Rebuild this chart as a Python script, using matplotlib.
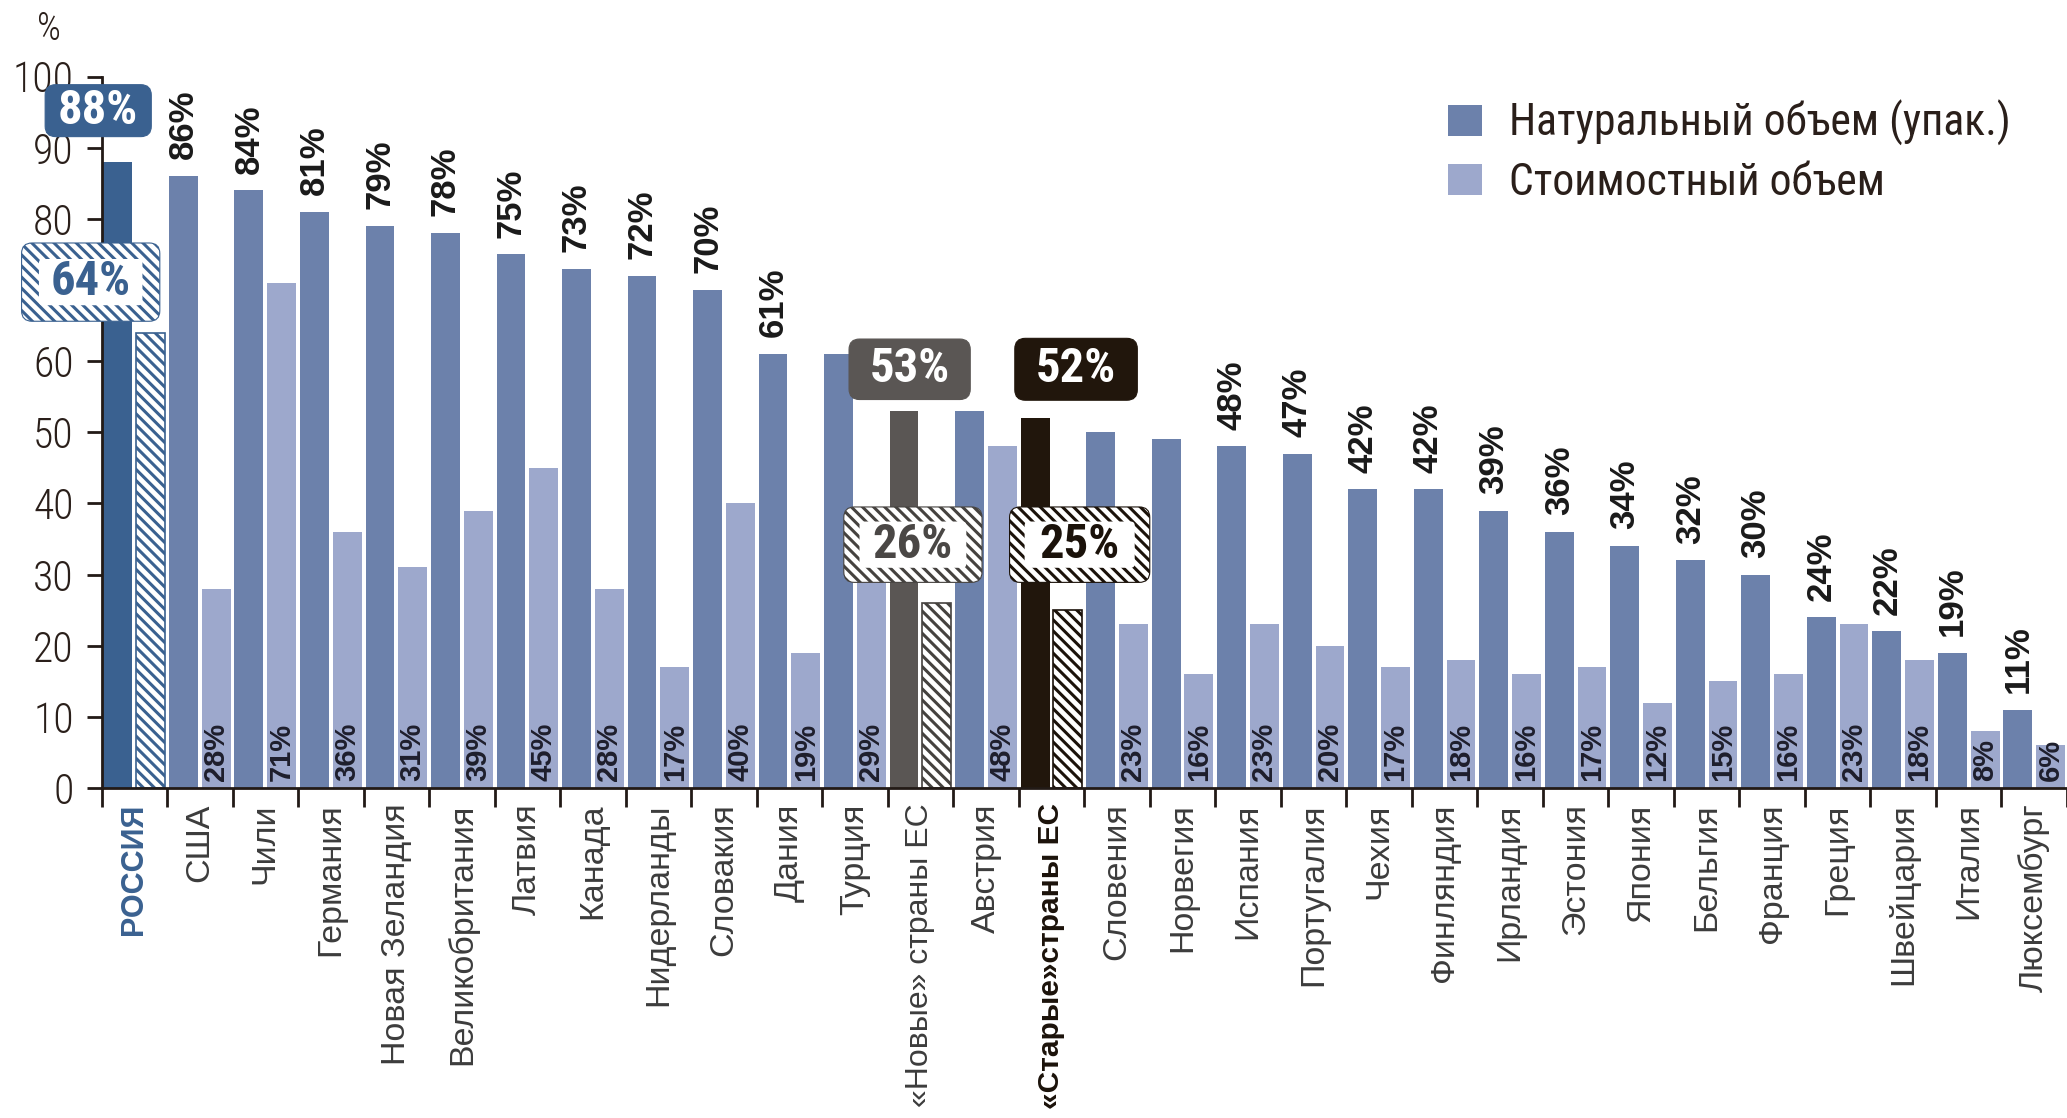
import numpy as np
import matplotlib.pyplot as plt
from matplotlib.patches import FancyBboxPatch, Patch

plt.rcParams['hatch.linewidth'] = 2.2

countries = ['РОССИЯ', 'США', 'Чили', 'Германия', 'Новая Зеландия', 'Великобритания',
             'Латвия', 'Канада', 'Нидерланды', 'Словакия', 'Дания', 'Турция',
             '«Новые» страны ЕС', 'Австрия', '«Старые»страны ЕС', 'Словения', 'Норвегия',
             'Испания', 'Португалия', 'Чехия', 'Финляндия', 'Ирландия', 'Эстония',
             'Япония', 'Бельгия', 'Франция', 'Греция', 'Швейцария', 'Италия', 'Люксембург']
natural = [88, 86, 84, 81, 79, 78, 75, 73, 72, 70, 61, 61, 53, 53, 52, 50, 49,
           48, 47, 42, 42, 39, 36, 34, 32, 30, 24, 22, 19, 11]
value = [64, 28, 71, 36, 31, 39, 45, 28, 17, 40, 19, 29, 26, 48, 25, 23, 16,
         23, 20, 17, 18, 16, 17, 12, 15, 16, 23, 18, 8, 6]
legend_labels = ['Натуральный объем (упак.)', 'Стоимостный объем']

# bars without a value on top
no_top_label = ['Турция', 'Австрия', 'Словения', 'Норвегия']

NARROW = ['Roboto Condensed', 'Liberation Sans']
REGULAR = ['Liberation Sans', 'DejaVu Sans']
plt.rcParams['font.family'] = REGULAR

c_nat = '#6c81ab'
c_val = '#9da8cc'
# highlighted groups: bar colour, stripe colour, label colour
special = {
    'РОССИЯ': ('#3a6190', '#3a6190', '#3a6190'),
    '«Новые» страны ЕС': ('#5a5654', '#45423f', '#4a4745'),
    '«Старые»страны ЕС': ('#21160c', '#1b120a', '#1b120a'),
}

W, H = 2067, 1118
fig = plt.figure(figsize=(W / 100, H / 100), dpi=100)
ax = fig.add_axes([101.5 / W, 330 / H, (W - 101.5) / W, (788 - 76.5) / H])
n = len(countries)
ax.set_xlim(0, n)
ax.set_ylim(0, 100)

x = np.arange(n)
nat_colors = [special[c][0] if c in special else c_nat for c in countries]
bars_nat = ax.bar(x + 0.25, natural, 0.44, color=nat_colors, zorder=2)
bars_val = ax.bar(x + 0.75, value, 0.44, color=c_val, zorder=2)
for c, p in zip(countries, bars_val):
    if c in special:
        p.set_facecolor('white')
        p.set_edgecolor(special[c][1])
        p.set_linewidth(1.2)
        p.set_hatch('\\\\\\')

# value labels
for i, c in enumerate(countries):
    if c in special:
        continue
    if c not in no_top_label:
        ax.annotate(f'{natural[i]}%', (x[i] + 0.25, natural[i]), xytext=(0, 12),
                    textcoords='offset points', rotation=90, ha='center', va='bottom',
                    fontsize=25, fontweight='bold', color='#1a1a1a', zorder=4)
    ax.text(x[i] + 0.75, 1.0, f'{value[i]}%', rotation=90, ha='center', va='bottom',
            fontsize=21, fontweight='bold', color='#1e1e2c', zorder=4)

# rounded callouts for the highlighted groups
px_x = (W - 101.5) / n
px_y = (788 - 76.5) / 100
aspect = px_x / px_y


def callout(cx, cy, w, h, text, fc, tc, hatch_col=None, inner=None):
    kw = dict(boxstyle='round,pad=0,rounding_size=0.16', mutation_aspect=aspect,
              clip_on=False, zorder=5)
    if hatch_col is None:
        ax.add_patch(FancyBboxPatch((cx - w / 2, cy - h / 2), w, h, facecolor=fc,
                                    edgecolor=fc, linewidth=0.8, **kw))
    else:
        ax.add_patch(FancyBboxPatch((cx - w / 2, cy - h / 2), w, h, facecolor='white',
                                    edgecolor=hatch_col, hatch='\\\\\\', linewidth=0.8, **kw))
        iw, ih = inner
        kw['boxstyle'] = 'round,pad=0,rounding_size=0.06'
        kw['zorder'] = 6
        ax.add_patch(FancyBboxPatch((cx - iw / 2, cy - ih / 2), iw, ih, facecolor='white',
                                    edgecolor='white', linewidth=0, **kw))
    ax.text(cx, cy, text, ha='center', va='center', fontsize=35, fontweight='bold',
            family=NARROW, color=tc, zorder=7, clip_on=False)


i = countries.index('РОССИЯ')
col = special['РОССИЯ'][0]
callout(i - 0.05, natural[i] + 7.2, 1.62, 7.3, f'{natural[i]}%', col, 'white')
callout(i - 0.165, value[i] + 7.1, 2.11, 11.0, f'{value[i]}%', None, col,
        hatch_col=col, inner=(1.58, 6.5))

i = countries.index('«Новые» страны ЕС')
col, scol, tcol = special['«Новые» страны ЕС']
callout(i + 0.335, natural[i] + 5.85, 1.85, 8.5, f'{natural[i]}%', col, 'white')
callout(i + 0.385, value[i] + 8.2, 2.11, 10.6, f'{value[i]}%', None, tcol,
        hatch_col=scol, inner=(1.63, 6.5))

i = countries.index('«Старые»страны ЕС')
col, scol, tcol = special['«Старые»страны ЕС']
callout(i + 0.875, natural[i] + 6.85, 1.87, 8.7, f'{natural[i]}%', col, 'white')
callout(i + 0.93, value[i] + 9.2, 2.14, 10.6, f'{value[i]}%', None, tcol,
        hatch_col=scol, inner=(1.68, 6.5))

# axes
for s in ['top', 'right']:
    ax.spines[s].set_visible(False)
for s in ['left', 'bottom']:
    ax.spines[s].set_linewidth(2.0)
    ax.spines[s].set_color('#221a16')
ax.spines['left'].set_zorder(3)

ax.set_yticks(range(0, 101, 10))
ax.tick_params(axis='y', direction='out', length=11, width=2.0, color='#221a16',
               pad=9, labelsize=30, labelcolor='#2a1f1a')
for t in ax.get_yticklabels():
    t.set_family(NARROW)
    t.set_fontweight('light')

ax.set_xticks(np.arange(0, n + 1))
ax.set_xticklabels([])
ax.tick_params(axis='x', which='major', direction='out', length=14, width=2.0,
               color='#221a16')
ax.set_xticks(x + 0.5, minor=True)
ax.set_xticklabels(countries, minor=True, rotation=90, va='top', ha='center')
ax.tick_params(axis='x', which='minor', length=0, pad=11, labelsize=24.5,
               labelcolor='#3c3c3c')
for c, t in zip(countries, ax.get_xticklabels(minor=True)):
    if c == '«Новые» страны ЕС':
        t.set_fontsize(23)
    elif c in special:
        t.set_fontweight('bold')
        t.set_fontsize(21.5 if 'ЕС' in c else 22)
        t.set_color(special[c][2])

fig.text(49 / W, 1 - 29 / H, '%', ha='center', va='center', fontsize=27,
         family=NARROW, fontweight='light', color='#2a1f1a')

handles = [Patch(facecolor=c_nat), Patch(facecolor=c_val)]
ax.legend(handles, legend_labels, loc='upper left',
          bbox_to_anchor=(1448 / W, 1 - 100 / H), bbox_transform=fig.transFigure,
          frameon=False, prop={'family': NARROW, 'size': 31.5}, handlelength=0.78,
          handleheight=0.72, handletextpad=0.62, labelspacing=0.36, borderpad=0,
          borderaxespad=0, labelcolor='#2a1f1a')

fig.savefig('out.png', dpi=100, facecolor='white')
